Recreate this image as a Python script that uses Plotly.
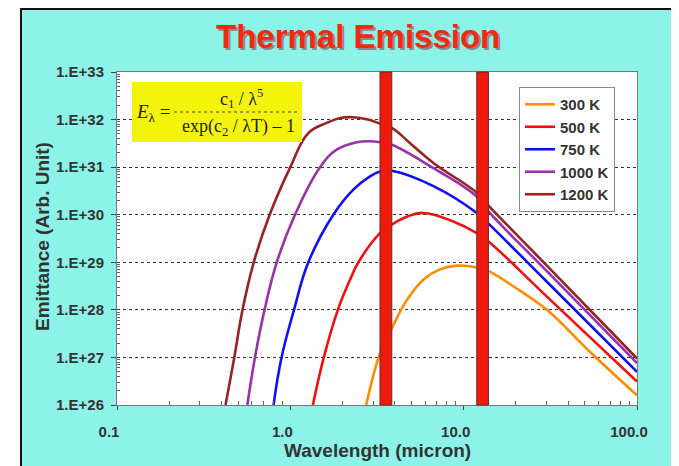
import plotly.graph_objects as go

# ---- data ----
temps = ["300 K", "500 K", "750 K", "1000 K", "1200 K"]

wl_300 = [2.74, 3.29, 3.85, 4.70, 5.85, 7.3, 9.13, 11.9, 13.9, 19.4, 30.2, 53.6, 100]
em_300 = [1.0e26, 1.2e27, 4.1e27, 1.6e28, 4.3e28, 7.1e28, 8.5e28, 7.8e28, 6.5e28, 3.1e28, 1.0e28, 1.3e27, 1.6e26]

wl_500 = [1.35, 1.56, 1.88, 2.21, 2.47, 3.29, 3.85, 4.70, 5.85, 8.72, 11.9, 13.9, 30.2, 100]
em_500 = [1.0e26, 1.0e27, 1.0e28, 4.3e28, 1.0e29, 4.1e29, 6.2e29, 9.1e29, 1.09e30, 7.2e29, 4.1e29, 2.75e29, 1.9e28, 3.1e26]

wl_750 = [0.80, 0.89, 1.05, 1.27, 1.77, 2.31, 2.88, 3.29, 3.52, 3.85, 6.69, 11.9, 13.9, 30.2, 100]
em_750 = [1.0e26, 1.0e27, 1.0e28, 1.0e29, 1.0e30, 3.36e30, 6.4e30, 8.1e30, 8.4e30, 8.4e30, 4.0e30, 1.09e30, 6.5e29, 3.9e28, 5.0e26]

wl_1000 = [0.565, 0.625, 0.71, 0.835, 1.064, 1.484, 1.85, 2.42, 2.88, 3.29, 3.85, 6.69, 11.9, 13.9, 30.2, 100]
em_1000 = [1.0e26, 1.0e27, 1.0e28, 1.0e29, 1.0e30, 1.0e31, 2.33e31, 3.33e31, 3.49e31, 3.35e31, 2.95e31, 9.5e30, 2.4e30, 1.17e30, 6.5e28, 7.6e26]

wl_1200 = [0.423, 0.475, 0.53, 0.615, 0.76, 1.0, 1.27, 1.62, 1.94, 2.30, 2.8, 3.29, 3.85, 5.0, 6.69, 11.9, 13.9, 30.2, 100]
em_1200 = [1.0e26, 1.0e27, 1.0e28, 1.0e29, 1.0e30, 1.0e31, 5.2e31, 8.5e31, 1.08e32, 1.12e32, 1.0e32, 8.2e31, 6.7e31, 3.0e31, 1.22e31, 2.9e30, 1.55e30, 8.5e28, 9.5e26]

# atmospheric window bands (micron)
band_lo = [3.29, 11.9]
band_hi = [3.85, 13.9]

x_tickvals = [0.1, 1.0, 10.0, 100.0]
x_ticktext = ["0.1", "1.0", "10.0", "100.0"]
y_tickvals = [1e26, 1e27, 1e28, 1e29, 1e30, 1e31, 1e32, 1e33]
y_ticktext = ["1.E+26", "1.E+27", "1.E+28", "1.E+29", "1.E+30", "1.E+31", "1.E+32", "1.E+33"]

colors = ["#FF8C00", "#F01010", "#1010F5", "#9932A8", "#992222"]

# ---- layout geometry (screen pixels; the page has an 8px body margin) ----
OFF = 8
SW, SH = 679, 466
W, H = SW - OFF, SH - OFF
L, R, T, B = 117, 637, 72, 405   # plot area in screen pixels


def px(x):
    return (x - L) / (R - L)


def py(y):
    return (B - y) / (B - T)


CYAN = "#8DF3E8"
TXT = "#333333"
SANS = "Liberation Sans, Arial, sans-serif"
SERIF = "Liberation Serif, Times New Roman, serif"

fig = go.Figure()
for name, wl, em, col in zip(temps, [wl_300, wl_500, wl_750, wl_1000, wl_1200],
                             [em_300, em_500, em_750, em_1000, em_1200], colors):
    fig.add_trace(go.Scatter(x=wl, y=em, mode="lines", name=name,
                             line=dict(color=col, width=2.6, shape="spline", smoothing=1.2)))

for lo, hi in zip(band_lo, band_hi):
    fig.add_shape(type="rect", xref="x", yref="paper", x0=lo, x1=hi, y0=0, y1=1,
                  fillcolor="#EE1A0C", line=dict(color="#6a2a2a", width=1), layer="above")

x_minor = [float(m) * 10.0 ** e for e in (-1, 0, 1) for m in range(2, 10)]
y_minor = [float(m) * 10.0 ** e for e in range(26, 33) for m in range(2, 10)]

fig.update_xaxes(type="log", range=[-1, 2], tickvals=x_tickvals, ticktext=x_ticktext,
                 ticks="outside", ticklen=4, tickcolor="#444", showgrid=False,
                 showline=True, linecolor="#777", linewidth=1, mirror=True, zeroline=False,
                 tickfont=dict(family=SANS, size=15, color=TXT, weight="bold"),
                 ticklabelstandoff=9, ticklabelshift=-8, automargin=False,
                 minor=dict(tickvals=x_minor, ticks="inside", ticklen=4, tickcolor="#666", showgrid=False))
fig.update_yaxes(type="log", range=[26, 33], tickvals=y_tickvals, ticktext=y_ticktext,
                 ticks="outside", ticklen=5, tickcolor="#444",
                 showgrid=True, gridcolor="#333333", griddash="dot", gridwidth=1,
                 showline=True, linecolor="#777", linewidth=1, mirror=True, zeroline=False,
                 tickfont=dict(family=SANS, size=15, color=TXT, weight="bold"),
                 ticklabelstandoff=4, automargin=False,
                 minor=dict(tickvals=y_minor, ticks="inside", ticklen=3, tickcolor="#666", showgrid=False))

# background frame: cyan panel with black border, white outside on the left
fig.add_shape(type="rect", xref="paper", yref="paper", x0=px(-10), x1=px(21), y0=py(SH + 10), y1=py(-10),
              fillcolor="white", line_width=0, layer="below")
fig.add_shape(type="line", xref="paper", yref="paper", x0=px(21), x1=px(21), y0=py(SH + 10), y1=py(8),
              line=dict(color="#111", width=2), layer="below")
fig.add_shape(type="line", xref="paper", yref="paper", x0=px(20), x1=px(SW + 10), y0=py(9), y1=py(9),
              line=dict(color="#111", width=2), layer="below")

# formula box
fig.add_shape(type="rect", xref="paper", yref="paper", x0=px(132), x1=px(302), y0=py(142), y1=py(82),
              fillcolor="#F4F40A", line_width=0, layer="above")
fig.add_shape(type="line", xref="paper", yref="paper", x0=px(174), x1=px(300), y0=py(112), y1=py(112),
              line=dict(color="#444", width=1, dash="dot"), layer="above")

annotations = [
    dict(text="<b>Thermal Emission</b>", x=px(360), y=py(38), font=dict(family=SANS, size=33, color="#8a8a8a")),
    dict(text="<b>Thermal Emission</b>", x=px(358), y=py(36), font=dict(family=SANS, size=33, color="#F52810")),
    dict(text="<b>Wavelength (micron)</b>", x=px(377), y=py(450), font=dict(family=SANS, size=19, color=TXT)),
    dict(text="<b>Emittance (Arb. Unit)</b>", x=px(42), y=py(237), textangle=-90,
         font=dict(family=SANS, size=19, color=TXT)),
    dict(text="<i>E</i><sub>λ</sub> =", x=px(153), y=py(113), font=dict(family=SERIF, size=19, color="#222")),
    dict(text="c<sub>1</sub> / λ<sup>5</sup>", x=px(241), y=py(99), font=dict(family=SERIF, size=18, color="#222")),
    dict(text="exp(c<sub>2</sub> / λT) – 1", x=px(238), y=py(127), font=dict(family=SERIF, size=18, color="#222")),
]
for a in annotations:
    a.update(xref="paper", yref="paper", showarrow=False, xanchor="center", yanchor="middle")

fig.update_layout(
    width=W, height=H,
    margin=dict(l=L - OFF, r=SW - R, t=T - OFF, b=SH - B, pad=0),
    paper_bgcolor=CYAN, plot_bgcolor="white",
    annotations=annotations,
    showlegend=True,
    legend=dict(x=px(519), y=py(87), xanchor="left", yanchor="top",
                bgcolor="white", bordercolor="#888", borderwidth=1,
                font=dict(family=SANS, size=15, color=TXT, weight="bold"),
                itemwidth=30, tracegroupgap=0),
)

fig.write_html("out.html")
